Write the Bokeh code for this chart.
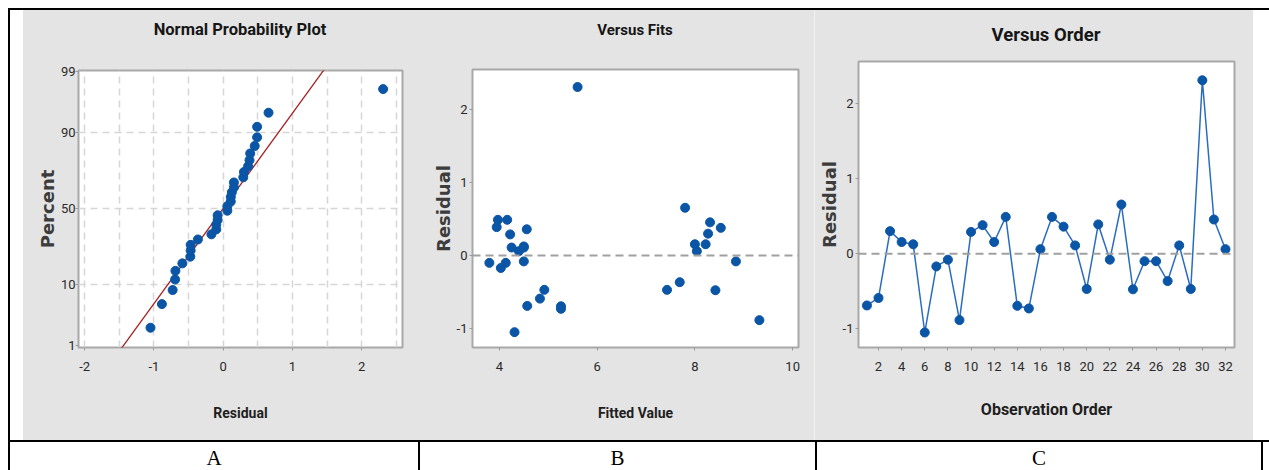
from statistics import NormalDist
from bokeh.plotting import figure
from bokeh.layouts import row, column
from bokeh.models import Div, Spacer, FixedTicker, Range1d, Span, ColumnDataSource
from bokeh.embed import file_html
from bokeh.resources import INLINE

# ---------------- data ----------------
order = list(range(1, 33))
residuals = [-0.69, -0.59, 0.30, 0.155, 0.125, -1.05, -0.17, -0.08, -0.885, 0.29,
             0.38, 0.155, 0.49, -0.695, -0.73, 0.06, 0.49, 0.36, 0.11, -0.47,
             0.39, -0.08, 0.655, -0.475, -0.10, -0.10, -0.365, 0.11, -0.47, 2.31,
             0.455, 0.06]
fitted = [4.57, 4.83, 8.27, 8.00, 4.50, 4.31, 4.03, 4.50, 9.32, 4.22,
          8.53, 8.22, 3.97, 5.26, 5.26, 4.40, 4.16, 4.56, 4.25, 7.43,
          3.945, 8.84, 7.80, 8.42, 3.795, 4.13, 7.69, 4.50, 4.92, 5.60,
          8.31, 8.04]
fit_mean = 0.0
fit_sd = 0.62
fit_line_percent = [0.5, 99.5]
prob_tick_percent = [1, 10, 50, 90, 99]
prob_grid_percent = [10, 50, 90]
resid_grid_x = [-2, -1.5, -1, -0.5, 0, 0.5, 1, 1.5, 2, 2.5]
resid_ticks_x = [-2, -1, 0, 1, 2]
fits_ticks_x = [4, 6, 8, 10]
resid_ticks_y = [-1, 0, 1, 2]
order_ticks_x = list(range(2, 33, 2))
panel_titles = ["Normal Probability Plot", "Versus Fits", "Versus Order"]
panel_letters = ["A", "B", "C"]

# ---------------- styles ----------------
ND = NormalDist()
GRAY_BG = "#e4e4e4"
BLUE = "#0a55a5"
LINE_BLUE = "#2a6cc0"
SANS = "Roboto"
TXT = "#1e1e1e"


def base_fig(width, height, xr, yr, left, right):
    p = figure(width=width, height=height, x_range=Range1d(*xr), y_range=Range1d(*yr),
               output_backend="svg", toolbar_location=None,
               min_border_left=left, min_border_right=right, min_border_top=10,
               min_border_bottom=93, border_fill_color=GRAY_BG,
               background_fill_color="white", outline_line_color="#a8a8a8",
               outline_line_width=2, title=None)
    for ax in (p.xaxis, p.yaxis):
        ax.axis_line_color = None
        ax.major_tick_line_color = "#9a9a9a"
        ax.major_tick_out = 3
        ax.major_tick_in = 0
        ax.minor_tick_line_color = None
        ax.major_label_text_font = SANS
        ax.major_label_text_font_size = "13px"
        ax.major_label_text_color = "#2a2a2a"
    p.xaxis.major_label_standoff = 11
    p.yaxis.major_label_standoff = 2
    p.xaxis.axis_label_text_font = SANS
    p.xaxis.axis_label_text_font_style = "bold"
    p.xaxis.axis_label_text_color = TXT
    p.xaxis.axis_label_standoff = 31
    p.yaxis.axis_label_text_font = "DejaVu Sans"
    p.yaxis.axis_label_text_font_style = "bold"
    p.yaxis.axis_label_text_font_size = "18px"
    p.yaxis.axis_label_text_color = "#3c3c3c"
    p.yaxis.axis_label_standoff = 0
    p.xgrid.grid_line_color = None
    p.ygrid.grid_line_color = None
    return p


def title_div(text, width, height, pad_left, pad_right, center_y, size):
    html = ('<div style="position:relative;top:%dpx;margin-left:%dpx;width:%dpx;'
            'height:%dpx;line-height:%dpx;text-align:center;font-family:Roboto,sans-serif;'
            'font-size:%s;font-weight:bold;color:#161616;white-space:nowrap">%s</div>'
            % (center_y - height // 2, pad_left, width - pad_left - pad_right,
               height, height, size, text))
    return Div(text=html, width=width, height=height, margin=0,
               styles={"background-color": GRAY_BG, "padding": "0"})


# ---------------- A: normal probability plot ----------------
z = lambda pct: ND.inv_cdf(pct / 100.0)
n = len(residuals)
sorted_res = sorted(residuals)
pcts = [(i + 1 - 0.3) / (n + 0.4) * 100 for i in range(n)]
srcA = ColumnDataSource(dict(x=sorted_res, y=[z(q) for q in pcts]))

pA = base_fig(395, 380, (-2.09, 2.59), (z(1) - 0.03, z(99) + 0.01), 55, 16)
pA.xaxis.ticker = FixedTicker(ticks=resid_ticks_x)
pA.xaxis.major_label_overrides = {t: str(t) for t in resid_ticks_x}
ytick_z = [z(q) for q in prob_tick_percent]
pA.yaxis.ticker = FixedTicker(ticks=ytick_z)
pA.yaxis.major_label_overrides = {zz: str(q) for zz, q in zip(ytick_z, prob_tick_percent)}
pA.yaxis.major_label_standoff = 0
pA.xgrid.ticker = FixedTicker(ticks=resid_grid_x)
pA.ygrid.ticker = FixedTicker(ticks=[z(q) for q in prob_grid_percent])
for g in (pA.xgrid, pA.ygrid):
    g.grid_line_color = "#d6d6d6"
    g.grid_line_dash = "7 5"
    g.grid_line_width = 1.5
pA.xaxis.axis_label = "Residual"
pA.xaxis.axis_label_text_font_size = "14px"
pA.yaxis.axis_label = "Percent"
fit_x = [fit_mean + fit_sd * z(q) for q in fit_line_percent]
pA.line(fit_x, [z(q) for q in fit_line_percent], line_color="#a52222", line_width=1.3)
pA.scatter("x", "y", source=srcA, size=9, color=BLUE)
tA = title_div(panel_titles[0], 395, 50, 55, 16, 20, "16.5px")

# ---------------- B: versus fits ----------------
pB = base_fig(396, 381, (3.45, 10.12), (-1.26, 2.55), 54, 16)
pB.xaxis.ticker = FixedTicker(ticks=fits_ticks_x)
pB.yaxis.ticker = FixedTicker(ticks=resid_ticks_y)
pB.yaxis.major_label_overrides = {t: str(t) for t in resid_ticks_y}
pB.xaxis.axis_label = "Fitted Value"
pB.xaxis.axis_label_text_font_size = "14px"
pB.yaxis.axis_label = "Residual"
pB.add_layout(Span(location=0, dimension="width", line_color="#a0a0a0",
                   line_dash="8 5", line_width=2))
pB.scatter(fitted, residuals, size=9, color=BLUE)
tB = title_div(panel_titles[1], 396, 49, 54, 16, 20, "15px")

# ---------------- C: versus order ----------------
pC = base_fig(438, 389, (0.27, 32.78), (-1.25, 2.56), 43, 19)
pC.xaxis.ticker = FixedTicker(ticks=order_ticks_x)
pC.yaxis.ticker = FixedTicker(ticks=resid_ticks_y)
pC.yaxis.major_label_overrides = {t: str(t) for t in resid_ticks_y}
pC.xaxis.axis_label = "Observation Order"
pC.xaxis.axis_label_text_font_size = "16px"
pC.xaxis.axis_label_standoff = 26
pC.yaxis.axis_label = "Residual"
pC.add_layout(Span(location=0, dimension="width", line_color="#a0a0a0",
                   line_dash="8 5", line_width=2))
pC.line(order, residuals, line_color=LINE_BLUE, line_width=1.5)
pC.scatter(order, residuals, size=9, color=BLUE)
tC = title_div(panel_titles[2], 438, 41, 43, 19, 25, "18.5px")


# ---------------- table layout ----------------
def bar(w, h, color="black"):
    return Div(text="", width=w, height=h, margin=0,
               styles={"background-color": color, "padding": "0"})


def cell(letter, w):
    html = ('<div style="position:relative;top:2px;width:%dpx;text-align:center;'
            'font-family:\'Liberation Serif\',serif;font-size:21px;line-height:28px;'
            'color:black">%s</div>' % (w, letter))
    return Div(text=html, width=w, height=28, margin=0, styles={"padding": "0"})


charts = row(bar(2, 430), bar(13, 430, "white"),
             column(tA, pA, spacing=0, styles={"background-color": GRAY_BG}),
             column(tB, pB, spacing=0, styles={"background-color": GRAY_BG}),
             bar(1, 430, "#f2f2f2"),
             column(tC, pC, spacing=0, styles={"background-color": GRAY_BG}),
             bar(16, 430, "white"), spacing=0,
             styles={"background-color": GRAY_BG})
labels = row(bar(2, 28), cell(panel_letters[0], 408), bar(2, 28),
             cell(panel_letters[1], 395), bar(2, 28), cell(panel_letters[2], 444),
             bar(2, 28), Spacer(width=6, height=28, margin=0), spacing=0)
table = column(Spacer(width=1261, height=8, margin=0), bar(1261, 2), charts,
               bar(1261, 2), labels, spacing=0)
page = row(Spacer(width=8, height=470, margin=0), table, spacing=0)

open("out.html", "w").write(file_html(page, INLINE))
